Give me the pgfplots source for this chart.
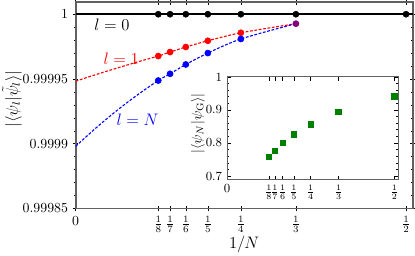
\documentclass[border=0pt]{standalone}
\usepackage{pgfplots}
\pgfplotsset{compat=1.18}
\definecolor{fgray}{rgb}{0.38,0.38,0.38}
\definecolor{dgreen}{rgb}{0,0.5,0}
\definecolor{lpurple}{rgb}{0.5,0,0.5}
% main-panel values stored as (|<psi|psi~>| - 1) x 10^5
\pgfplotstableread{
x y
0.125 0
0.142857 0
0.166667 0
0.2 0
0.25 0
0.333333 0
0.5 0
}\lzero
\pgfplotstableread{
x y
0.125 -3.23
0.142857 -2.92
0.166667 -2.53
0.2 -2.05
0.25 -1.43
}\lone
\pgfplotstableread{
x y
0 -5.17
0.03125 -4.65
0.0625 -4.16
0.09375 -3.68
0.125 -3.23
0.142857 -2.92
0.166667 -2.53
0.2 -2.05
0.25 -1.43
0.333333 -0.73
}\lonefit
\pgfplotstableread{
x y
0.125 -5.12
0.142857 -4.60
0.166667 -3.88
0.2 -3.00
0.25 -1.91
}\lN
\pgfplotstableread{
x y
0 -10.2
0.03125 -8.76
0.0625 -7.43
0.09375 -6.22
0.125 -5.12
0.142857 -4.60
0.166667 -3.88
0.2 -3.00
0.25 -1.91
0.333333 -0.73
}\lNfit
\pgfplotstableread{
x y
0.125 0.758
0.142857 0.777
0.166667 0.800
0.2 0.827
0.25 0.857
0.333333 0.895
0.5 0.941
}\inset
\begin{document}
\begin{tikzpicture}
\path[use as bounding box] (-54.7pt,-34.3pt) rectangle (245.3pt,150.7pt);
\begin{axis}[
  at={(0,0)}, anchor=south west,
  scale only axis, width=243.6pt, height=149.3pt,
  xmin=0, xmax=0.51, ymin=-15, ymax=0.95,
  axis line style={fgray, line width=1.4pt},
  tick style={black, line width=0.4pt},
  tick align=center, major tick length=4pt, minor tick length=2.5pt,
  xtick={0,0.125,0.142857,0.166667,0.2,0.25,0.333333,0.5},
  xticklabels={$0$,$\frac{1}{8}$,$\frac{1}{7}$,$\frac{1}{6}$,$\frac{1}{5}$,$\frac{1}{4}$,$\frac{1}{3}$,$\frac{1}{2}$},
  ytick={-15,-10,-5,0},
  yticklabels={0.99985,0.9999,0.99995,1},
  minor y tick num=4,
  xlabel={$1/N$},
  xlabel style={at={(axis description cs:0.5,-0.172)}, anchor=center, font=\large},
  ylabel={$|\langle\psi_l|\tilde{\psi}_l\rangle|$},
  ylabel style={at={(axis description cs:-0.189,0.53)}, anchor=center, font=\large},
  clip=false,
]
\addplot[black, line width=1.2pt, forget plot] coordinates {(0,0) (0.51,0)};
\addplot[black, only marks, mark=*, mark size=2.2pt] table {\lzero};
\addplot[red, dashed, line width=0.8pt, dash pattern=on 2pt off 1.2pt, smooth] table {\lonefit};
\addplot[red, only marks, mark=*, mark size=2.2pt] table {\lone};
\addplot[blue, dashed, line width=0.8pt, dash pattern=on 2pt off 1.2pt, smooth] table {\lNfit};
\addplot[blue, only marks, mark=*, mark size=2.2pt] table {\lN};
\addplot[lpurple, only marks, mark=*, mark size=2.2pt] coordinates {(0.333333,-0.73)};
\node[font=\large] at (axis cs:0.055,-0.83) {$l=0$};
\node[font=\large, red] at (axis cs:0.069,-3.47) {$l=1$};
\node[font=\large, blue] at (axis cs:0.0936,-8.12) {$l=N$};
\end{axis}
\begin{axis}[
  at={(109.4pt,20.6pt)}, anchor=south west,
  scale only axis, width=123.6pt, height=74.5pt,
  xmin=0, xmax=0.511, ymin=0.688, ymax=1,
  axis background/.style={fill=white},
  axis line style={fgray, line width=0.7pt},
  tick style={black, line width=0.4pt},
  tick align=inside, major tick length=3pt, minor tick length=1.8pt,
  xtick={0,0.125,0.142857,0.166667,0.2,0.25,0.333333,0.5},
  xticklabels={$0$,$\frac{1}{8}$,$\frac{1}{7}$,$\frac{1}{6}$,$\frac{1}{5}$,$\frac{1}{4}$,$\frac{1}{3}$,$\frac{1}{2}$},
  ytick={0.7,0.8,0.9,1},
  yticklabels={0.7,0.8,0.9,1},
  minor y tick num=4,
  ticklabel style={font=\small},
  ylabel={$|\langle\psi_N|\psi_{\mathrm{G}}\rangle|$},
  ylabel style={at={(axis description cs:-0.17,0.55)}, anchor=center, font=\normalsize},
]
\addplot[dgreen, only marks, mark=square*, mark size=2pt] table {\inset};
\end{axis}
\end{tikzpicture}
\end{document}
